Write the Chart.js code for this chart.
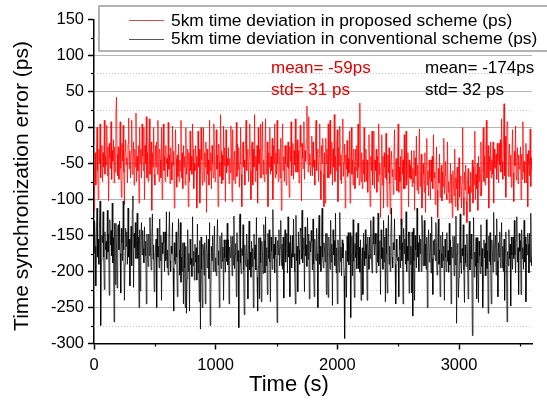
<!DOCTYPE html>
<html>
<head>
<meta charset="utf-8">
<script src="https://cdn.jsdelivr.net/npm/chart.js@4.4.1/dist/chart.umd.min.js"></script>
<style>
  html, body { margin: 0; padding: 0; background: #fff; }
  #wrap { position: relative; width: 547px; height: 402px; }
</style>
</head>
<body>
<div id="wrap"><canvas id="chTsync" width="547" height="402"></canvas></div>
<script>
/* time sync error traces, one sample every 5 s (0..3600 s) */
const STEP = 5;

const proposed = [
  -115, -65, -35, -80, -40, 0, -60, -100, -30, -50, 5, -70, -45, -25, -75, -35, -55, 10, -65, -40,
  -52, 3, -67, -27, -102, -22, -42, -57, 8, -72, -32, -47, -17, -77, -27, -62, 18, 42, -37, -67,
  -27, -72, -37, 8, -57, -97, -22, -47, 3, -62, -107, -32, -17, -52, -42, -77, -22, 13, -57, -32,
  -70, -35, 10, -65, -45, -20, -80, -30, -55, 20, -75, -40, -60, -25, -105, 0, -50, -30, -70, 5,
  -40, -60, 0, -100, -25, -50, 15, -70, -35, -75, -30, 12, -65, -45, -20, -115, -35, -55, 0, -65,
  -80, -25, -55, -20, -65, 10, -50, -75, -30, -45, -70, 0, -100, -35, 5, -60, -40, -75, -25, -50,
  -43, -68, 7, -58, -38, -78, -28, -48, -73, 2, -53, -33, -112, -63, -3, -43, -83, -38, -68, -23,
  -75, -45, -60, 10, -70, -35, -85, -25, -55, -40, -80, 0, -65, -50, -30, -110, -35, -75, -5, -60,
  -40, -65, 5, -30, -85, -50, -60, -25, -40, -112, -70, -5, -55, -30, -105, -65, 0, -45, -80, -35,
  0, -75, -35, -55, -20, -118, -30, -65, -45, -80, 10, -60, -35, -85, -25, -50, -70, 5, -40, -75,
  -68, -3, -58, -38, -110, -23, -48, -68, 18, -33, -78, -38, -73, 2, -53, -28, -103, -3, -63, -43,
  -53, -28, -78, -43, -63, 2, -38, -103, -3, -73, -48, -33, -78, -53, 7, -68, -23, -58, -28, -83,
  -50, 0, -65, -110, -35, -20, -55, -45, -80, -25, 10, -60, -35, -30, -75, -40, 5, -60, -100, -25,
  -20, -80, -30, -55, 18, -75, -40, -60, -25, -105, 0, -50, -30, -70, 5, -70, -35, 8, -65, -45,
  -75, -30, 12, -65, -45, -20, -110, -35, -55, 0, -65, -40, -60, -15, -100, -25, -50, 5, -70, -35,
  -65, 10, -50, -75, -30, -45, -70, -15, -115, -35, 5, -60, -40, -75, -25, -50, -80, -25, -55, -20,
  -57, -97, -27, -47, 8, -67, -42, -22, -72, -32, -52, 12, -62, -37, -17, -62, -32, -77, -37, 3,
  -27, -102, -22, -42, -57, 8, -72, -32, -47, -17, 30, -27, -62, 15, -52, -37, -67, -52, -12, -67,
  -20, -55, -45, -80, -25, 10, -60, -35, -30, -75, -40, 5, -60, -100, -25, -50, -15, -65, -110, -35,
  -105, -15, -50, -30, -70, 5, -70, -35, 10, -65, -45, -20, -80, -30, -55, 18, -75, -40, -60, -25,
  -3, -103, -28, -53, 2, -73, -38, -78, -33, 12, -68, -48, -23, -112, -38, -58, -18, -68, -43, -63,
  -5, -105, -40, 0, -65, -45, -80, -30, -55, -85, -30, -60, -25, -70, 5, -55, -80, 34, -50, -75,
  -35, -85, -45, -65, 0, -75, -50, -30, -75, -45, -90, -50, -10, -70, -110, -40, -60, -5, -80, -55,
  -5, -85, -45, -60, -30, -90, -40, -75, 5, -65, -50, -125, -65, -10, -80, -40, -112, -35, -55, -70,
  -8, -73, -110, -38, -63, -28, -78, -120, -48, -33, -68, -58, -93, -38, -3, -73, -48, -43, -88, -53,
  5, -90, -55, -75, -40, -135, -30, -65, -45, -85, -10, -85, -50, -5, -80, -60, -35, -110, -45, -70,
  -52, -72, -32, -82, -57, -77, -32, -115, -42, -67, -12, -87, -52, -92, -47, -2, -82, -62, -37, -112,
  -95, -50, -65, -90, -35, -118, -55, -15, -80, -60, -95, -45, -70, -100, -45, -75, -40, -85, -10, -70,
  -62, -107, -67, -27, -87, -125, -57, -77, -37, -97, -72, -52, -102, -62, -82, -15, -92, -67, -47, -92,
  -100, -20, -90, -75, -105, -90, -50, -105, -65, -125, -60, -80, -95, -30, -110, -70, -85, -55, -115, -65,
  -42, -97, -72, -67, -112, -77, 0, -97, -122, -62, -87, -52, -102, -132, -72, -57, -92, -82, -117, -62,
  -90, -70, -45, -105, -55, -80, -5, -100, -65, -85, -50, -115, -40, -75, -55, -95, -20, -95, -60, -30,
  0, -75, -40, -80, -35, 10, -70, -50, -25, -112, -40, -60, -20, -70, -45, -65, -20, -105, -30, -55,
  -57, -37, -72, -22, -47, -77, -22, -52, -17, -62, 12, -47, -72, -27, 33, -67, -12, -97, -32, 8,
  7, -68, -43, -23, -68, -38, -83, -43, -3, -63, -103, -33, -53, 2, -73, -48, -28, -78, -38, -58,
  -57, -27, -100, -37, -72, 8, -62, -47, -77, -62, -22, -77, -37, -110, -32, -52, -67, -2, -82, -42,
  -60
];

const conventional = [
  -175, -130, -165, -220, -145, -112, -180, -155, -190, -140, -102, -275, -185, -150, -160, -117, -180, -225, -145, -170,
  -158, -183, -115, -173, -148, -233, -128, -163, -143, -178, -105, -188, -153, -270, -133, -218, -133, -168, -223, -138,
  -135, -170, -130, -175, -230, -140, -160, -185, -102, -170, -240, -190, -140, -165, -145, -190, -112, -180, -155, -220,
  -162, -137, -192, -114, -95, -222, -147, -167, -132, -182, -157, -119, -182, -152, -250, -142, -227, -157, -132, -177,
  -143, -168, -188, -138, -178, -158, -245, -148, -173, -193, -148, -178, -125, -173, -198, -153, -120, -183, -163, -228,
  -190, -170, -155, -250, -140, -180, -165, -195, -127, -185, -150, -240, -160, -175, -145, -160, -200, -145, -185, -117,
  -195, -170, -205, -155, -117, -185, -200, -165, -175, -132, -195, -255, -160, -185, -190, -145, -180, -235, -160, -127,
  -170, -205, -132, -215, -180, -200, -160, -245, -160, -195, -250, -165, -258, -210, -142, -200, -175, -255, -155, -190,
  -182, -207, -124, -192, -172, -212, -162, -187, -167, -212, -134, -202, -177, -242, -157, -280, -152, -197, -250, -162,
  -170, -205, -160, -245, -175, -150, -195, -180, -155, -210, -132, -275, -238, -165, -185, -150, -200, -175, -137, -200,
  -181, -206, -161, -128, -191, -171, -250, -151, -176, -196, -146, -186, -166, -240, -156, -181, -201, -156, -186, -133,
  -191, -156, -245, -166, -181, -151, -166, -206, -151, -191, -123, -196, -176, -161, -235, -146, -186, -171, -278, -133,
  -120, -188, -203, -168, -178, -135, -198, -260, -163, -188, -193, -148, -183, -238, -163, -130, -198, -173, -208, -158,
  -193, -168, -250, -148, -183, -163, -198, -125, -208, -255, -193, -153, -238, -153, -188, -242, -158, -178, -203, -135,
  -157, -202, -124, -192, -167, -232, -147, -182, -142, -187, -242, -152, -172, -197, -114, -182, -162, -202, -152, -177,
  -182, -271, -157, -177, -142, -192, -167, -129, -192, -162, -197, -152, -237, -167, -142, -187, -172, -147, -202, -124,
  -180, -160, -235, -150, -175, -195, -150, -180, -127, -175, -200, -245, -122, -185, -165, -228, -145, -170, -190, -140,
  -143, -183, -115, -188, -168, -153, -228, -138, -178, -163, -193, -125, -183, -148, -238, -158, -173, -143, -158, -198,
  -127, -190, -235, -155, -180, -185, -140, -175, -250, -155, -122, -190, -165, -200, -150, -112, -180, -195, -160, -170,
  -187, -147, -232, -147, -182, -236, -152, -172, -197, -129, -187, -162, -247, -142, -177, -157, -192, -119, -202, -167,
  -245, -156, -176, -201, -118, -186, -166, -206, -156, -181, -161, -206, -293, -196, -171, -236, -151, -186, -146, -191,
  -171, -146, -264, -176, -151, -206, -128, -186, -236, -161, -181, -146, -196, -171, -133, -196, -166, -201, -156, -240,
  -187, -167, -232, -147, -172, -192, -142, -182, -162, -240, -152, -177, -197, -152, -182, -129, -177, -202, -157, -124,
  -162, -177, -147, -162, -202, -147, -187, -119, -192, -172, -157, -232, -142, -182, -167, -197, -129, -187, -152, -242,
  -140, -175, -230, -155, -122, -190, -165, -200, -150, -112, -180, -195, -160, -170, -127, -190, -245, -155, -180, -185,
  -180, -235, -150, -170, -195, -127, -185, -160, -245, -140, -175, -155, -190, -117, -200, -165, -185, -145, -230, -145,
  -190, -165, -230, -145, -262, -140, -185, -240, -150, -170, -195, -112, -180, -160, -200, -150, -175, -155, -200, -122,
  -142, -192, -167, -129, -192, -162, -197, -152, -250, -167, -142, -187, -172, -147, -202, -124, -182, -232, -157, -177,
  -155, -185, -132, -180, -205, -160, -127, -190, -170, -235, -150, -175, -195, -145, -185, -165, -240, -155, -180, -200,
  -146, -186, -171, -201, -133, -191, -156, -245, -166, -181, -151, -166, -206, -151, -191, -123, -272, -176, -161, -236,
  -208, -158, -120, -188, -203, -168, -178, -135, -198, -243, -163, -188, -193, -148, -183, -238, -163, -130, -198, -173,
  -148, -183, -289, -198, -125, -208, -173, -193, -153, -238, -153, -188, -243, -158, -178, -203, -135, -193, -168, -250,
  -206, -156, -181, -161, -206, -128, -196, -171, -258, -151, -186, -146, -191, -245, -156, -176, -201, -118, -186, -166,
  -150, -205, -127, -185, -235, -160, -180, -145, -195, -170, -132, -195, -165, -200, -155, -240, -170, -145, -190, -270,
  -172, -192, -142, -182, -162, -248, -152, -177, -197, -152, -182, -129, -177, -202, -157, -124, -187, -167, -232, -147,
  -172, -157, -232, -142, -182, -167, -197, -129, -187, -152, -242, -162, -177, -147, -162, -202, -147, -187, -119, -192,
  -180
];

const xTicks = [0, 1000, 2000, 3000];
const yMin = -300, yMax = 150;
const seriesLabels = [
  '5km time deviation in proposed scheme (ps)',
  '5km time deviation in conventional scheme (ps)'
];
const statProposed = ['mean= -59ps', 'std= 31 ps'];
const statConventional = ['mean= -174ps', 'std= 32 ps'];

const FONT = "Arial, 'Liberation Sans', sans-serif";
const RED = '#ff0000';

function toPts(arr) { return arr.map((v, i) => ({ x: i * STEP, y: v })); }

// minor dotted grid + minor ticks, legend box, stats text and axis titles
const decorPlugin = {
  id: 'decor',
  beforeDatasetsDraw(chart) {
    const { ctx, chartArea: a, scales: { y } } = chart;
    ctx.save();
    ctx.strokeStyle = '#c4c4c4';
    ctx.lineWidth = 1;
    ctx.setLineDash([1, 2]);
    for (let v = yMin + 25; v < yMax; v += 50) {
      const py = Math.round(y.getPixelForValue(v)) + 0.5;
      ctx.beginPath(); ctx.moveTo(a.left, py); ctx.lineTo(a.right, py); ctx.stroke();
    }
    ctx.restore();
  },
  afterDraw(chart) {
    const { ctx, chartArea: a, scales: { x, y } } = chart;
    ctx.save();
    // minor ticks
    ctx.strokeStyle = '#000';
    ctx.lineWidth = 1.2;
    for (let v = yMin + 25; v < yMax; v += 50) {
      const py = Math.round(y.getPixelForValue(v)) + 0.5;
      ctx.beginPath(); ctx.moveTo(a.left - 3, py); ctx.lineTo(a.left, py); ctx.stroke();
    }
    for (let v = 500; v < 3600; v += 1000) {
      const px = Math.round(x.getPixelForValue(v)) + 0.5;
      ctx.beginPath(); ctx.moveTo(px, a.bottom); ctx.lineTo(px, a.bottom + 3); ctx.stroke();
    }

    // legend
    ctx.fillStyle = '#fff';
    ctx.fillRect(99, 6, 460, 45);
    ctx.strokeStyle = '#9a9a9a';
    ctx.lineWidth = 1.5;
    ctx.strokeRect(99, 6, 460, 45);
    ctx.lineWidth = 1;
    ctx.strokeStyle = '#c8504f';
    ctx.beginPath(); ctx.moveTo(129, 20.5); ctx.lineTo(164, 20.5); ctx.stroke();
    ctx.strokeStyle = '#555';
    ctx.beginPath(); ctx.moveTo(129, 39.5); ctx.lineTo(164, 39.5); ctx.stroke();
    ctx.fillStyle = '#000';
    ctx.font = '17.4px ' + FONT;
    ctx.textAlign = 'left';
    ctx.textBaseline = 'middle';
    ctx.fillText(seriesLabels[0], 171, 21);
    ctx.fillText(seriesLabels[1], 171, 39.5);

    // stats
    ctx.font = '17px ' + FONT;
    ctx.fillStyle = '#e00000';
    ctx.fillText(statProposed[0], 271, 68);
    ctx.fillText(statProposed[1], 271, 90);
    ctx.fillStyle = '#000';
    ctx.fillText(statConventional[0], 425, 68);
    ctx.fillText(statConventional[1], 425, 90);

    // axis titles
    ctx.font = '22px ' + FONT;
    ctx.textAlign = 'center';
    ctx.fillText('Time (s)', 289, 385);
    ctx.font = '21px ' + FONT;
    ctx.translate(22, 186);
    ctx.rotate(-Math.PI / 2);
    ctx.fillText('Time synchronization error (ps)', 0, 0);
    ctx.restore();
  }
};

new Chart(document.getElementById('chTsync'), {
  type: 'line',
  data: {
    datasets: [
      { label: seriesLabels[0], data: toPts(proposed), borderColor: RED, borderWidth: 0.75, pointRadius: 0, tension: 0, order: 1 },
      { label: seriesLabels[1], data: toPts(conventional), borderColor: '#000', borderWidth: 0.75, pointRadius: 0, tension: 0, order: 0 }
    ]
  },
  options: {
    responsive: false,
    animation: false,
    layout: { padding: { top: 19.5, right: 15, left: 0, bottom: 0 } },
    plugins: { legend: { display: false }, tooltip: { enabled: false } },
    scales: {
      x: {
        type: 'linear', min: 0, max: 3600,
        afterBuildTicks: s => { s.ticks = xTicks.map(v => ({ value: v })); },
        afterFit: s => { s.height = 58.5; },
        ticks: { color: '#000', font: { family: FONT, size: 16.5 }, padding: 6, maxRotation: 0, callback: v => String(v) },
        grid: { drawOnChartArea: false, tickLength: 6, tickColor: '#000', tickWidth: 1.5 },
        border: { color: '#000', width: 1.5 }
      },
      y: {
        min: yMin, max: yMax,
        afterFit: s => { s.width = 94; },
        ticks: { stepSize: 50, color: '#000', font: { family: FONT, size: 16.5 }, padding: 4 },
        grid: {
          color: c => (c.tick && (c.tick.value === yMin || c.tick.value === yMax)) ? 'rgba(0,0,0,0)' : '#b4b4b4',
          lineWidth: 1, tickLength: 6, tickColor: '#000', tickWidth: 1.5
        },
        border: { color: '#000', width: 1.5 }
      }
    }
  },
  plugins: [decorPlugin]
});
</script>
</body>
</html>
